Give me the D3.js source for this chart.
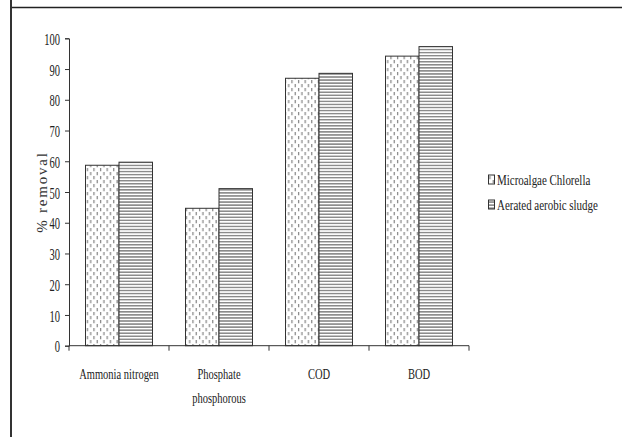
<!DOCTYPE html>
<html><head><meta charset="utf-8">
<script src="https://cdn.jsdelivr.net/npm/d3@7"></script>
<style>body{margin:0;background:#fff}svg{display:block}
text{font-family:"Liberation Serif","DejaVu Serif",serif}</style>
</head><body>
<svg id="c" width="622" height="437"></svg>
<script>
const categories = ["Ammonia nitrogen", "Phosphate\nphosphorous", "COD", "BOD"];
const seriesNames = ["Microalgae Chlorella", "Aerated aerobic sludge"];
const chlorella = [58.7, 44.7, 87.0, 94.2];
const sludge = [59.7, 51.1, 88.6, 97.3];
const yTicks = [0, 10, 20, 30, 40, 50, 60, 70, 80, 90, 100];

const svg = d3.select("#c");

// squeezed text helper (reference glyphs are horizontally compressed)
function sqText(parent, x, y, str, size, s, anchor) {
  return parent.append("g").attr("transform", `translate(${x},${y}) scale(${s},1)`)
    .append("text").attr("x", 0).attr("y", 0).attr("font-size", size)
    .attr("text-anchor", anchor || "start").attr("fill", "#222").text(str);
}

// frame
svg.append("line").attr("x1", 11).attr("x2", 622).attr("y1", 7.5).attr("y2", 7.5).attr("stroke", "#222").attr("stroke-width", 1.5);
svg.append("line").attr("x1", 11).attr("x2", 11).attr("y1", 0).attr("y2", 437).attr("stroke", "#333").attr("stroke-width", 2);

// patterns
const defs = svg.append("defs");
const p1 = defs.append("pattern").attr("id", "dots").attr("patternUnits", "userSpaceOnUse").attr("width", 6.6).attr("height", 8);
p1.append("rect").attr("width", 6.6).attr("height", 8).attr("fill", "#fff");
p1.append("line").attr("x1", 1.6).attr("x2", 1.6).attr("y1", 0).attr("y2", 3.2).attr("stroke", "#777").attr("stroke-width", 1.1);
p1.append("line").attr("x1", 4.9).attr("x2", 4.9).attr("y1", 4).attr("y2", 7.2).attr("stroke", "#777").attr("stroke-width", 1.1);
const p2 = defs.append("pattern").attr("id", "hstripes").attr("patternUnits", "userSpaceOnUse").attr("width", 8).attr("height", 3.05);
p2.append("rect").attr("width", 8).attr("height", 3.05).attr("fill", "#fff");
p2.append("rect").attr("y", 0).attr("width", 8).attr("height", 1.5).attr("fill", "#8a8a8a");

const x0 = d3.scaleBand().domain(categories).range([69, 469]).paddingInner(0.33).paddingOuter(0.165);
const x1 = d3.scaleBand().domain(seriesNames).range([0, x0.bandwidth()]);
const y = d3.scaleLinear().domain([0, 100]).range([345.7, 38.3]);

// bars
const data = categories.map((c, i) => ({c, vals: [chlorella[i], sludge[i]]}));
const fills = ["url(#dots)", "url(#hstripes)"];
const g = svg.append("g");
data.forEach(d => {
  d.vals.forEach((v, j) => {
    g.append("rect")
      .attr("x", x0(d.c) + x1(seriesNames[j]))
      .attr("y", y(v))
      .attr("width", x1.bandwidth())
      .attr("height", y(0) - y(v))
      .attr("fill", fills[j])
      .attr("stroke", "#333").attr("stroke-width", 1);
  });
});

// y axis
const tickSq = 0.62;
const yAxis = svg.append("g").attr("transform", "translate(69,0)")
  .call(d3.axisLeft(y).tickValues(yTicks).tickSize(4).tickPadding(5));
yAxis.attr("font-family", null);
yAxis.select(".domain").attr("stroke", "#333");
yAxis.selectAll(".tick line").attr("stroke", "#333");
yAxis.selectAll(".tick text").attr("font-size", 17).attr("fill", "#222").attr("dy", "0.36em")
  .attr("x", -9 / tickSq).attr("transform", `scale(${tickSq},1)`);

// x axis (line + boundary ticks)
const xAxisG = svg.append("g");
xAxisG.append("line").attr("x1", 69).attr("x2", x0.range()[1]).attr("y1", y(0)).attr("y2", y(0)).attr("stroke", "#333");
const bounds = [x0.range()[0]].concat(categories.map(c => x0(c) - x0.step() * x0.paddingInner() / 2 + x0.step()));
xAxisG.selectAll(".bt").data(bounds).enter().append("line")
  .attr("x1", d => d).attr("x2", d => d).attr("y1", y(0)).attr("y2", y(0) + 5).attr("stroke", "#333");

categories.forEach(c => {
  const cx = x0(c) + x0.bandwidth() / 2;
  c.split("\n").forEach((ln, k) => sqText(xAxisG, cx, 379 + k * 24, ln, 15, 0.70, "middle"));
});

// y label
svg.append("text").attr("transform", "translate(47,192) rotate(-90)")
  .attr("text-anchor", "middle").attr("font-size", 15)
  .attr("letter-spacing", 1.8).attr("fill", "#333").text("% removal");

// legend
const lg = svg.append("g");
seriesNames.forEach((s, i) => {
  const yy = 175 + i * 25;
  lg.append("rect").attr("x", 488.5).attr("y", yy).attr("width", 6).attr("height", 9)
    .attr("fill", fills[i]).attr("stroke", "#333").attr("stroke-width", 1);
  sqText(lg, 497, yy + 10, s, 15, 0.73, "start");
});
</script>
</body></html>
